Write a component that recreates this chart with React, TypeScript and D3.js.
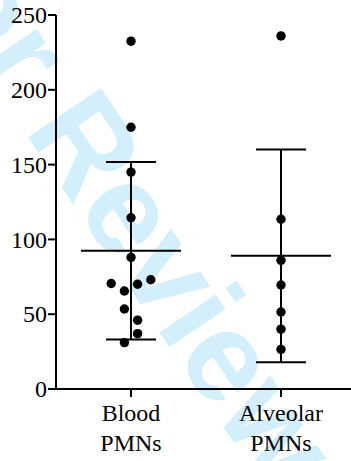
import React from 'react'
import * as d3 from 'd3'

// PMN counts, per group
const GROUPS = ['Blood PMNs', 'Alveolar PMNs']
const BLOOD = [232.5, 175, 145, 114.5, 88, 70.5, 73, 70, 65.5, 53.5, 46, 37, 31]
const ALVEOLAR = [236, 113.5, 86, 69.5, 51.5, 40, 26.5]
// horizontal jitter slot for each dot (in dot widths)
const BLOOD_SLOT = [0, 0, 0, 0, 0, -3, 3, 1, -1, -1, 1, 1, -1]
const ALVEOLAR_SLOT = [0, 0, 0, 0, 0, 0, 0]
const Y_TICKS = [0, 50, 100, 150, 200, 250]

const W = 351
const H = 461
const margin = { top: 15, right: 0, bottom: 72, left: 56 }
const FONT = 'Liberation Serif'

const x = d3.scalePoint<string>().domain(GROUPS).range([131, 281])
const y = d3.scaleLinear().domain([0, 250]).range([H - margin.bottom, margin.top])
const baseY = H - margin.bottom

const series = [
  { name: GROUPS[0], values: BLOOD, slots: BLOOD_SLOT },
  { name: GROUPS[1], values: ALVEOLAR, slots: ALVEOLAR_SLOT },
]

export default function App() {
  return (
    <svg width={W} height={H}
      style={{ position: 'absolute', left: 0, top: 0, background: '#fff' }}>
      {/* watermark behind the plot */}
      <text transform="translate(79,213) rotate(56)" textAnchor="middle"
        fontFamily="Liberation Sans" fontWeight="bold" fontSize={128} fill="#d4effc">
        For Review
      </text>

      {/* axes */}
      <g stroke="#000" strokeWidth={2}>
        <line x1={margin.left} x2={margin.left} y1={y(250)} y2={baseY} />
        {Y_TICKS.map(t => (
          <line key={t} x1={margin.left - 8} x2={margin.left} y1={y(t)} y2={y(t)} />
        ))}
        <line x1={margin.left} x2={W} y1={baseY} y2={baseY} />
        {GROUPS.map(g => (
          <line key={g} x1={x(g)} x2={x(g)} y1={baseY} y2={baseY + 8} />
        ))}
      </g>
      {Y_TICKS.map(t => (
        <text key={t} x={margin.left - 9} y={y(t)} dy="0.34em" textAnchor="end"
          fontFamily={FONT} fontSize={24} fill="#000">{t}</text>
      ))}

      {/* category labels on two lines */}
      {GROUPS.map(g => {
        const [a, b] = g.split(' ')
        return (
          <text key={g} textAnchor="middle" fontFamily={FONT} fontSize={24} fill="#000">
            <tspan x={x(g)} y={421}>{a}</tspan>
            <tspan x={x(g)} y={451}>{b}</tspan>
          </text>
        )
      })}

      {series.map(s => {
        const cx = x(s.name)!
        const m = d3.mean(s.values)!
        const sd = d3.deviation(s.values)!
        return (
          <g key={s.name}>
            <g stroke="#000" strokeWidth={2}>
              {/* mean line */}
              <line x1={cx - 50} x2={cx + 50} y1={y(m)} y2={y(m)} />
              {/* sd whisker + caps */}
              <line x1={cx} x2={cx} y1={y(m + sd)} y2={y(m - sd)} />
              <line x1={cx - 25} x2={cx + 25} y1={y(m + sd)} y2={y(m + sd)} />
              <line x1={cx - 25} x2={cx + 25} y1={y(m - sd)} y2={y(m - sd)} />
            </g>
            {s.values.map((d, i) => (
              <circle key={i} cx={cx + s.slots[i] * 6.6} cy={y(d)} r={4.7} fill="#000" />
            ))}
          </g>
        )
      })}
    </svg>
  )
}
